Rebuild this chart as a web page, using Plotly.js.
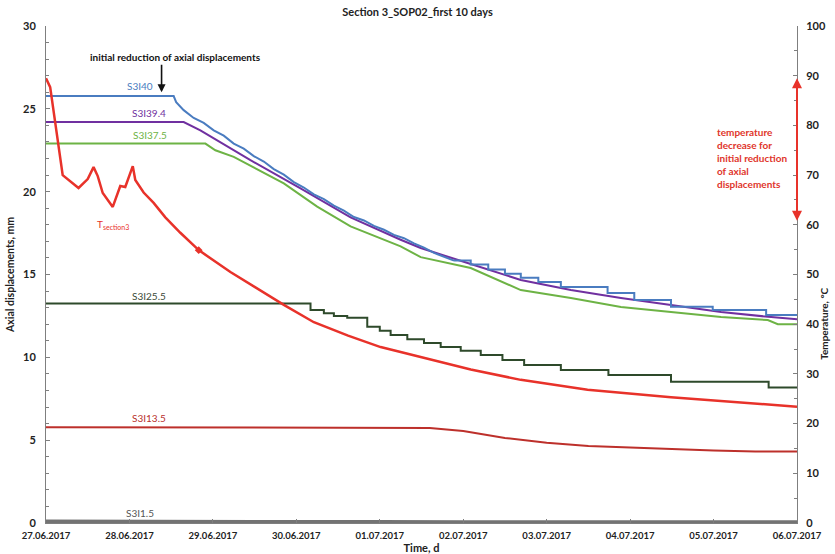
<!DOCTYPE html>
<html>
<head>
<meta charset="utf-8">
<script src="https://cdn.plot.ly/plotly-3.0.1.min.js"></script>
<style>
html,body{margin:0;padding:0;background:#fff;}
#chart{width:835px;height:554px;}
</style>
</head>
<body>
<div id="chart"></div>
<script>
// ---- data (time in days after 27.06.2017 00:00) ----
var dayTicks = ['27.06.2017','28.06.2017','29.06.2017','30.06.2017','01.07.2017','02.07.2017','03.07.2017','04.07.2017','05.07.2017','06.07.2017'];

var s40Days = [0, 1.53, 1.56, 1.65, 1.77, 1.89, 2.01, 2.13, 2.25, 2.37, 2.49, 2.61, 2.73, 2.85, 2.97, 3.09, 3.21, 3.33, 3.45, 3.57, 3.69, 3.81, 3.93, 4.05, 4.17, 4.29, 4.41, 4.53, 4.65, 4.77, 4.89, 5.09, 5.3, 5.5, 5.69, 5.9, 6.17, 6.73, 7.05, 7.49, 7.99, 8.63, 9.0];
var s40Vals = [25.77, 25.77, 25.4, 24.92, 24.45, 24.15, 23.7, 23.38, 22.9, 22.6, 22.15, 21.82, 21.36, 21.03, 20.58, 20.25, 19.84, 19.55, 19.16, 18.86, 18.47, 18.26, 17.93, 17.7, 17.39, 17.19, 16.88, 16.62, 16.3, 16.07, 15.84, 15.6, 15.3, 15.05, 14.8, 14.55, 14.24, 13.88, 13.46, 13.06, 12.85, 12.55, 12.55];
var s40StepFrom = 30; // index from which the S3I40 record is a staircase

var s394Days = [0, 1.65, 1.85, 2.05, 2.45, 3.05, 3.65, 4.25, 4.49, 5.09, 5.69, 6.29, 6.89, 7.49, 8.09, 8.69, 9.0];
var s394Vals = [24.2, 24.2, 23.7, 23.1, 21.9, 20.2, 18.45, 17.1, 16.6, 15.63, 14.67, 14.06, 13.58, 13.16, 12.73, 12.43, 12.3];

var s375Days = [0, 1.91, 2.03, 2.25, 2.85, 3.25, 3.65, 4.25, 4.49, 5.09, 5.69, 6.29, 6.89, 7.49, 8.09, 8.65, 8.77, 9.0];
var s375Vals = [22.9, 22.9, 22.5, 22.1, 20.5, 19.1, 17.9, 16.7, 16.05, 15.39, 14.06, 13.58, 13.04, 12.73, 12.43, 12.25, 12.0, 12.0];

var s255Days = [0, 3.17, 3.33, 3.45, 3.61, 3.85, 4.0, 4.13, 4.33, 4.53, 4.73, 4.97, 5.21, 5.47, 5.73, 6.17, 6.74, 7.49, 8.66, 9.0];
var s255Vals = [13.25, 12.86, 12.66, 12.5, 12.39, 11.85, 11.6, 11.35, 11.09, 10.86, 10.62, 10.4, 10.14, 9.84, 9.54, 9.23, 8.93, 8.53, 8.18, 8.18];

var s135Days = [0, 2.0, 4.0, 4.6, 5.0, 5.5, 6.0, 6.5, 7.0, 7.5, 8.0, 8.5, 9.0];
var s135Vals = [5.78, 5.78, 5.77, 5.74, 5.55, 5.13, 4.85, 4.65, 4.55, 4.45, 4.38, 4.32, 4.32];

var s15Days = [0, 1.0, 2.0, 3.0, 4.0, 5.0, 6.0, 7.0, 8.0, 9.0];
var s15Vals = [0.1, 0.08, 0.09, 0.08, 0.07, 0.06, 0.06, 0.06, 0.06, 0.06];

var tempDays = [0, 0.05, 0.2, 0.29, 0.39, 0.5, 0.57, 0.62, 0.68, 0.8, 0.86, 0.89, 0.95, 1.04, 1.07, 1.17, 1.29, 1.43, 1.61, 1.83, 2.21, 2.61, 2.85, 3.21, 3.62, 4.01, 4.49, 5.09, 5.69, 6.49, 7.49, 8.48, 9.0];
var tempVals = [89.5, 87.7, 70.0, 68.8, 67.4, 69.2, 71.6, 69.8, 66.4, 63.6, 66.2, 67.8, 67.6, 71.8, 69.0, 66.5, 64.4, 61.5, 58.4, 54.9, 50.5, 46.3, 43.9, 40.4, 37.7, 35.4, 33.4, 30.9, 28.8, 26.8, 25.3, 24.1, 23.4];

var tempMarkDay = [1.83];
var tempMarkVal = [54.9];

// ---- helpers ----
var BASE = Date.UTC(2017, 5, 27);
function toDate(d) {
  return new Date(BASE + d * 86400000).toISOString().slice(0, 19).replace('T', ' ');
}
function dates(arr) { return arr.map(toDate); }

var FONT = 'Lato, Liberation Sans, Arial, sans-serif';
var BLUE = '#4a7cc0';

var traces = [
  {x: dates(s15Days), y: s15Vals, mode: 'lines', name: 'S3I1.5', line: {color: '#737373', width: 3.5}},
  {x: dates(s135Days), y: s135Vals, mode: 'lines', name: 'S3I13.5', line: {color: '#bd302b', width: 2}},
  {x: dates(s255Days), y: s255Vals, mode: 'lines', name: 'S3I25.5', line: {color: '#2e4a2b', width: 2, shape: 'hv'}},
  {x: dates(s375Days), y: s375Vals, mode: 'lines', name: 'S3I37.5', line: {color: '#6db345', width: 2}},
  {x: dates(s394Days), y: s394Vals, mode: 'lines', name: 'S3I39.4', line: {color: '#7030a0', width: 2}},
  {x: dates(s40Days.slice(0, s40StepFrom + 1)), y: s40Vals.slice(0, s40StepFrom + 1), mode: 'lines', name: 'S3I40',
   line: {color: BLUE, width: 2}},
  {x: dates(s40Days.slice(s40StepFrom)), y: s40Vals.slice(s40StepFrom), mode: 'lines', name: 'S3I40 (steps)',
   line: {color: BLUE, width: 2, shape: 'hv'}},
  {x: dates(tempDays), y: tempVals, yaxis: 'y2', mode: 'lines', name: 'T section3', line: {color: '#e8322a', width: 2.5}},
  {x: dates(tempMarkDay), y: tempMarkVal, yaxis: 'y2', mode: 'markers', name: 'marker', marker: {color: '#e8322a', size: 6, symbol: 'diamond'}}
];

var tickFont = {family: FONT, size: 11, color: '#222', weight: 'bold'};
var axisCommon = {
  showgrid: false, zeroline: false, showline: true, linecolor: '#7f7f7f', linewidth: 1,
  ticks: 'inside', ticklen: 4, tickcolor: '#7f7f7f', tickfont: tickFont
};

var layout = {
  width: 835, height: 554,
  margin: {l: 46, r: 38, t: 26, b: 31},
  paper_bgcolor: '#ffffff', plot_bgcolor: '#ffffff',
  showlegend: false,
  font: {family: FONT, color: '#222'},
  title: {text: 'Section 3_SOP02_first 10 days', x: 0.5, xanchor: 'center', y: 0.978, yanchor: 'middle',
          font: {family: FONT, size: 11, color: '#222', weight: 'bold'}},
  xaxis: Object.assign({}, axisCommon, {
    type: 'date', range: [toDate(0), toDate(9)],
    tickmode: 'array', tickvals: dayTicks.map(function (t, i) { return toDate(i); }), ticktext: dayTicks,
    ticklabelstandoff: 4,
    tickfont: {family: FONT, size: 9.5, color: '#222', weight: 'bold'},
    title: {text: 'Time, d', font: {family: FONT, size: 11, color: '#222', weight: 'bold'}, standoff: 1}
  }),
  yaxis: Object.assign({}, axisCommon, {
    range: [0, 30], dtick: 5, ticklabelstandoff: 7,
    minor: {dtick: 1, ticks: 'inside', ticklen: 3, tickcolor: '#7f7f7f'},
    title: {text: 'Axial displacements, mm', font: {family: FONT, size: 10.5, color: '#222', weight: 'bold'}, standoff: 6}
  }),
  yaxis2: Object.assign({}, axisCommon, {
    overlaying: 'y', side: 'right', range: [0, 100], dtick: 10, ticklabelstandoff: 6,
    minor: {dtick: 5, ticks: 'inside', ticklen: 3, tickcolor: '#7f7f7f'}
  }),
  annotations: [
    {xref: 'paper', yref: 'paper', x: 1.0475, y: 0.40, textangle: -90, text: 'Temperature, °C', showarrow: false,
     font: {family: FONT, size: 10, color: '#222', weight: 'bold'}},
    {xref: 'x', yref: 'y', x: toDate(1.55), y: 28.1, text: 'initial reduction of axial displacements', showarrow: false,
     font: {family: FONT, size: 10, color: '#111', weight: 'bold'}},
    {xref: 'x', yref: 'y', x: toDate(1.385), y: 26.0, ax: 0, ay: -29, text: '', showarrow: true,
     arrowhead: 2, arrowsize: 1, arrowwidth: 1.6, arrowcolor: '#111'},
    {xref: 'x', yref: 'y', x: toDate(1.13), y: 26.35, text: 'S3I40', showarrow: false, font: {family: FONT, size: 10, color: BLUE}},
    {xref: 'x', yref: 'y', x: toDate(1.23), y: 24.75, text: 'S3I39.4', showarrow: false, font: {family: FONT, size: 10, color: '#7030a0'}},
    {xref: 'x', yref: 'y', x: toDate(1.25), y: 23.4, text: 'S3I37.5', showarrow: false, font: {family: FONT, size: 10, color: '#6db345'}},
    {xref: 'x', yref: 'y', x: toDate(1.23), y: 13.7, text: 'S3I25.5', showarrow: false, font: {family: FONT, size: 10, color: '#3a4a38'}},
    {xref: 'x', yref: 'y', x: toDate(1.23), y: 6.35, text: 'S3I13.5', showarrow: false, font: {family: FONT, size: 10, color: '#b8302c'}},
    {xref: 'x', yref: 'y', x: toDate(1.13), y: 0.6, text: 'S3I1.5', showarrow: false, font: {family: FONT, size: 10, color: '#555'}},
    {xref: 'x', yref: 'y', x: toDate(0.8), y: 18.0, text: 'T<sub>section3</sub>', showarrow: false, font: {family: FONT, size: 10, color: '#e8322a'}},
    {xref: 'x', yref: 'y2', x: toDate(9), y: 89.5, axref: 'x', ayref: 'y2', ax: toDate(9), ay: 60.5, text: '', showarrow: true,
     arrowhead: 2, startarrowhead: 2, arrowside: 'end+start', arrowsize: 1, arrowwidth: 2, arrowcolor: '#e8322a'},
    {xref: 'paper', yref: 'paper', x: 0.891, y: 0.803, xanchor: 'left', yanchor: 'top', align: 'left', showarrow: false,
     text: 'temperature<br>decrease for<br>initial reduction<br>of axial<br>displacements',
     font: {family: FONT, size: 10, color: '#e0352b', weight: 'bold'}}
  ]
};

Plotly.newPlot('chart', traces, layout, {displayModeBar: false, staticPlot: true});
</script>
</body>
</html>
